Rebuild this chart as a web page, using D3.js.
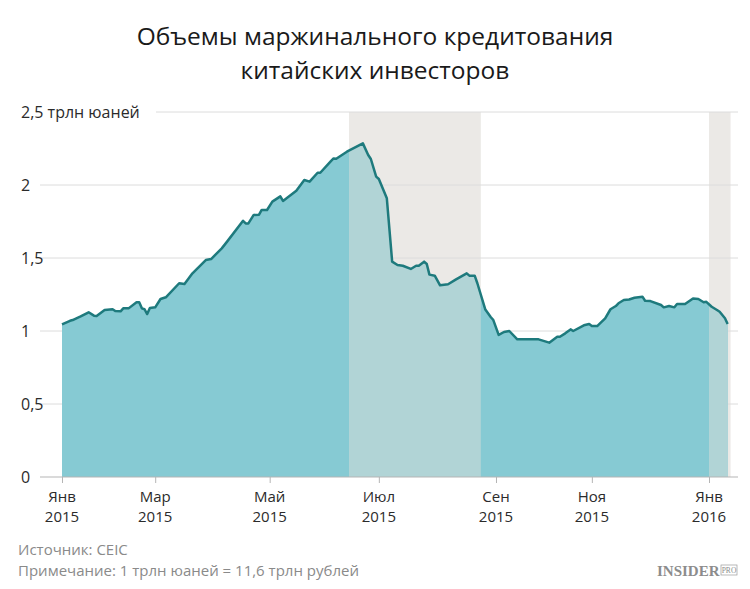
<!DOCTYPE html>
<html>
<head>
<meta charset="utf-8">
<script src="https://cdnjs.cloudflare.com/ajax/libs/d3/7.8.5/d3.min.js"></script>
<style>
  html, body { margin: 0; padding: 0; background: #fff; }
  svg { display: block; }
  .sans { font-family: "Open Sans", sans-serif; }
  .serif { font-family: "Liberation Serif", "DejaVu Serif", serif; }
</style>
</head>
<body>
<div id="chart"></div>
<script>
// ---- data ----
// x = trading-day index counted from the first trading day of 2015 (5 Jan 2015)
const tradingDay = [0,3,4,7,10,12,13,16,19,20,22,23,25,28,29,30,31,32,33,35,37,39,44,46,49,54,56,60,62,68,69,70,72,74,75,77,79,82,83,88,91,93,96,97,101,102,103,107,113,115,116,118,119,122,124,126,128,131,133,134,136,137,138,140,142,145,148,152,153,155,156,159,161,162,164,166,168,171,179,183,184,186,187,189,191,192,196,198,199,201,204,206,208,209,211,213,215,218,219,221,225,226,228,230,231,234,237,239,241,242,244,246,247,249,250];
// margin lending volume, trillion yuan
const marginDebt = [1.045,1.07,1.075,1.10,1.128,1.105,1.103,1.144,1.149,1.137,1.135,1.155,1.155,1.197,1.197,1.155,1.149,1.116,1.158,1.162,1.219,1.231,1.327,1.322,1.395,1.486,1.493,1.566,1.612,1.755,1.737,1.737,1.795,1.797,1.829,1.829,1.886,1.922,1.891,1.961,2.034,2.023,2.084,2.084,2.164,2.182,2.18,2.228,2.285,2.205,2.178,2.057,2.041,1.909,1.475,1.452,1.447,1.425,1.447,1.447,1.475,1.459,1.386,1.379,1.313,1.32,1.354,1.395,1.379,1.379,1.327,1.147,1.096,1.075,0.973,0.993,1.0,0.943,0.943,0.92,0.934,0.961,0.961,0.984,1.011,1.0,1.039,1.048,1.034,1.034,1.087,1.149,1.171,1.19,1.212,1.216,1.228,1.235,1.207,1.205,1.178,1.162,1.171,1.162,1.185,1.185,1.223,1.219,1.197,1.2,1.166,1.144,1.132,1.087,1.048];

const tickDays   = [0, 35, 78, 119, 163, 199, 243];
const tickMonths = ["Янв", "Мар", "Май", "Июл", "Сен", "Ноя", "Янв"];
const tickYears  = ["2015", "2015", "2015", "2015", "2015", "2015", "2016"];

const yTicks      = [0, 0.5, 1, 1.5, 2, 2.5];
const yTickLabels = ["0", "0,5", "1", "1,5", "2", "2,5 трлн юаней"];

// shaded periods (trading-day index)
const shadeStart = [107.8, 243];
const shadeEnd   = [157.3, 251.1];

const titleLines = ["Объемы маржинального кредитования", "китайских инвесторов"];
const sourceText = "Источник: CEIC";
const noteText   = "Примечание: 1 трлн юаней = 11,6 трлн рублей";

// ---- drawing ----
const W = 750, H = 589;
const svg = d3.select("#chart").append("svg").attr("width", W).attr("height", H);

const x = d3.scaleLinear().domain([0, 243]).range([62, 709]);
const y = d3.scaleLinear().domain([0, 2.5]).range([477, 112]);

const data = tradingDay.map((d, i) => ({ d, v: marginDebt[i] }));
const shades = shadeStart.map((s, i) => ({ s, e: shadeEnd[i] }));

// title
svg.append("g").selectAll("text").data(titleLines).join("text")
  .attr("class", "sans")
  .attr("x", W / 2).attr("y", (d, i) => 45 + i * 34)
  .attr("text-anchor", "middle")
  .attr("font-size", 24.5).attr("fill", "#1a1a1a")
  .text(d => d);

// shaded backgrounds
svg.append("g").selectAll("rect").data(shades).join("rect")
  .attr("x", d => x(d.s)).attr("width", d => x(d.e) - x(d.s))
  .attr("y", y(2.5)).attr("height", y(0) - y(2.5))
  .attr("fill", "#ebe9e6");

// gridlines
const grid = svg.append("g");
grid.selectAll("line").data(yTicks.filter(t => t > 0)).join("line")
  .attr("x1", d => d === 2.5 ? 156 : 40).attr("x2", 738)
  .attr("y1", d => y(d)).attr("y2", d => y(d))
  .attr("stroke", "#dcdcdc").attr("stroke-width", 1);

// y labels
svg.append("g").selectAll("text").data(yTicks).join("text")
  .attr("class", "sans")
  .attr("x", 21).attr("y", d => y(d) + 6)
  .attr("font-size", 16).attr("fill", "#2b2b2b")
  .text((d, i) => yTickLabels[i]);

// area
const area = d3.area().x(d => x(d.d)).y0(y(0)).y1(d => y(d.v));
const line = d3.line().x(d => x(d.d)).y(d => y(d.v));

svg.append("path").datum(data).attr("d", area).attr("fill", "#86cad3");

const defs = svg.append("defs");
const clip = defs.append("clipPath").attr("id", "shadeClip");
clip.selectAll("rect").data(shades).join("rect")
  .attr("x", d => x(d.s)).attr("width", d => x(d.e) - x(d.s))
  .attr("y", y(2.5)).attr("height", y(0) - y(2.5));
svg.append("path").datum(data).attr("d", area).attr("fill", "#b1d4d6")
  .attr("clip-path", "url(#shadeClip)");

svg.append("path").datum(data).attr("d", line)
  .attr("fill", "none").attr("stroke", "#1e7a7d").attr("stroke-width", 2.5)
  .attr("stroke-linejoin", "round");

// x axis
const xAxis = d3.axisBottom(x).tickValues(tickDays).tickSize(6).tickFormat(() => "");
const gx = svg.append("g").attr("transform", `translate(0,${y(0)})`).call(xAxis);
gx.select(".domain").remove();
gx.selectAll(".tick line").attr("stroke", "#b5b5b5");
gx.append("line").attr("x1", 40).attr("x2", 738).attr("y1", 0).attr("y2", 0)
  .attr("stroke", "#b5b5b5");

const xl = svg.append("g").selectAll("g").data(tickDays).join("g")
  .attr("transform", d => `translate(${x(d)},0)`);
xl.append("text").attr("class", "sans").attr("y", 502).attr("text-anchor", "middle")
  .attr("font-size", 15).attr("fill", "#2b2b2b").text((d, i) => tickMonths[i]);
xl.append("text").attr("class", "sans").attr("y", 522).attr("text-anchor", "middle")
  .attr("font-size", 15).attr("fill", "#2b2b2b").text((d, i) => tickYears[i]);

// footer
svg.append("text").attr("class", "sans").attr("x", 18).attr("y", 555).attr("font-size", 15)
  .attr("fill", "#8a8a8a").text(sourceText);
svg.append("text").attr("class", "sans").attr("x", 18).attr("y", 576).attr("font-size", 15)
  .attr("fill", "#8a8a8a").text(noteText);

// logo
const logo = svg.append("g");
logo.append("text").attr("class", "serif").attr("x", 657).attr("y", 576)
  .attr("font-weight", "bold")
  .attr("font-size", 15).attr("fill", "#8c8c8c").text("INSIDER");
logo.append("rect").attr("x", 721).attr("y", 565).attr("width", 16).attr("height", 10)
  .attr("fill", "none").attr("stroke", "#9a9a9a").attr("stroke-width", 0.7);
logo.append("text").attr("class", "serif").attr("x", 729).attr("y", 573)
  .attr("text-anchor", "middle").attr("font-size", 7.5)
  .attr("fill", "#8c8c8c").text("PRO");
</script>
</body>
</html>
